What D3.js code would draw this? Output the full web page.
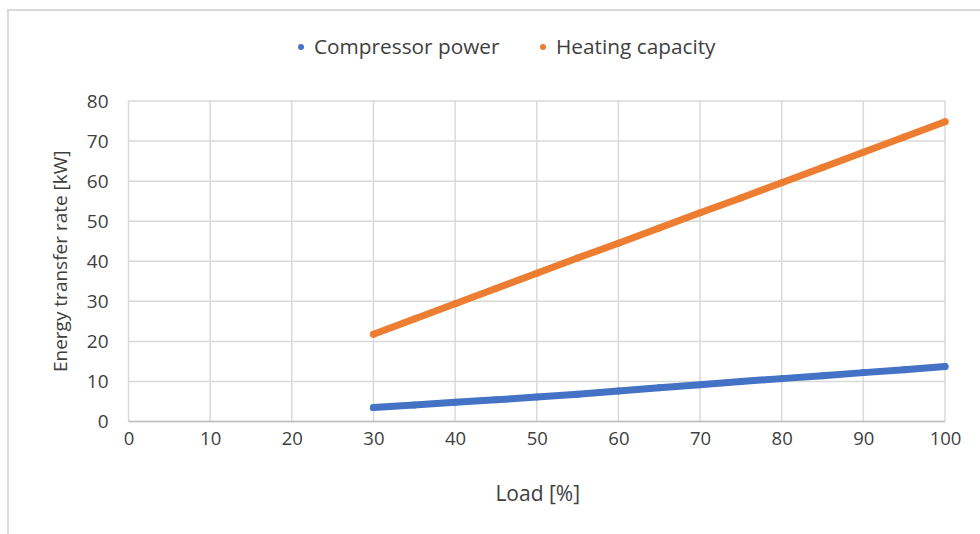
<!DOCTYPE html>
<html><head><meta charset="utf-8">
<script src="https://cdn.jsdelivr.net/npm/d3@7"></script>
<style>html,body{margin:0;padding:0;background:#fff;}svg{display:block;}</style>
</head><body>
<svg id="c" width="980" height="534"></svg>
<script>
const loads = [30,35,40,45,50,55,60,65,70,75,80,85,90,95,100];
const compressorPower = [3.5,4.1,4.8,5.4,6.1,6.8,7.6,8.4,9.2,10.0,10.7,11.4,12.2,12.9,13.7];
const heatingCapacity = [21.8,25.6,29.4,33.2,37.0,40.8,44.5,48.3,52.1,55.8,59.6,63.4,67.2,71.0,74.8];
const xTicks = [0,10,20,30,40,50,60,70,80,90,100];
const yTicks = [0,10,20,30,40,50,60,70,80];
const seriesNames = ["Compressor power","Heating capacity"];
const seriesColors = ["#4472c4","#ed7d31"];

const svg = d3.select("#c");
const font = "'Open Sans', sans-serif";
svg.append("path").attr("d","M8,534 V10 H980").attr("fill","none").attr("stroke","#d9d9d9").attr("stroke-width",2);

const x = d3.scaleLinear().domain([0,100]).range([128.5,945]);
const y = d3.scaleLinear().domain([0,80]).range([421.5,101]);

const g = svg.append("g");
g.selectAll(".vg").data(xTicks).join("line")
  .attr("x1",d=>x(d)).attr("x2",d=>x(d)).attr("y1",y(0)).attr("y2",y(80))
  .attr("stroke","#d9d9d9").attr("stroke-width",1.5);
g.selectAll(".hg").data(yTicks).join("line")
  .attr("x1",x(0)).attr("x2",x(100)).attr("y1",d=>y(d)).attr("y2",d=>y(d))
  .attr("stroke","#d9d9d9").attr("stroke-width",1.5);

const xa = svg.append("g").attr("transform",`translate(0,${y(0)})`)
  .call(d3.axisBottom(x).tickValues(xTicks).tickSize(0).tickPadding(10));
xa.select(".domain").remove();
xa.selectAll("text").attr("font-family",font).attr("font-size",18.5).attr("fill","#404040");
const ya = svg.append("g").attr("transform",`translate(${x(0)},0)`)
  .call(d3.axisLeft(y).tickValues(yTicks).tickSize(0).tickPadding(20));
ya.select(".domain").remove();
ya.selectAll("text").attr("font-family",font).attr("font-size",19).attr("fill","#404040");
svg.append("line").attr("x1",x(0)).attr("x2",x(100)).attr("y1",y(0)).attr("y2",y(0))
  .attr("stroke","#bfbfbf").attr("stroke-width",1.5);

svg.append("text").attr("x",(x(0)+x(100))/2 + 1).attr("y",501).attr("text-anchor","middle")
  .attr("font-family",font).attr("font-size",21).attr("fill","#404040").text("Load [%]");
svg.append("text").attr("transform",`translate(67,${(y(0)+y(80))/2}) rotate(-90)`).attr("text-anchor","middle")
  .attr("font-family",font).attr("font-size",19).attr("fill","#404040").text("Energy transfer rate [kW]");

const series = [compressorPower, heatingCapacity];
const line = d3.line().x((d,i)=>x(loads[i])).y(d=>y(d));
series.forEach((vals,si)=>{
  svg.append("path").datum(vals).attr("d",line).attr("fill","none")
    .attr("stroke",seriesColors[si]).attr("stroke-width",7).attr("stroke-linecap","round");
  svg.append("g").selectAll("circle").data(vals).join("circle")
    .attr("cx",(d,i)=>x(loads[i])).attr("cy",d=>y(d)).attr("r",3.5).attr("fill",seriesColors[si]);
});

const legX = [301, 543];
seriesNames.forEach((n,i)=>{
  svg.append("circle").attr("cx",legX[i]).attr("cy",47).attr("r",3).attr("fill",seriesColors[i]);
  svg.append("text").attr("x",legX[i]+13).attr("y",54).attr("font-family",font).attr("font-size",20.8)
    .attr("fill","#404040").text(n);
});
</script>
</body></html>
